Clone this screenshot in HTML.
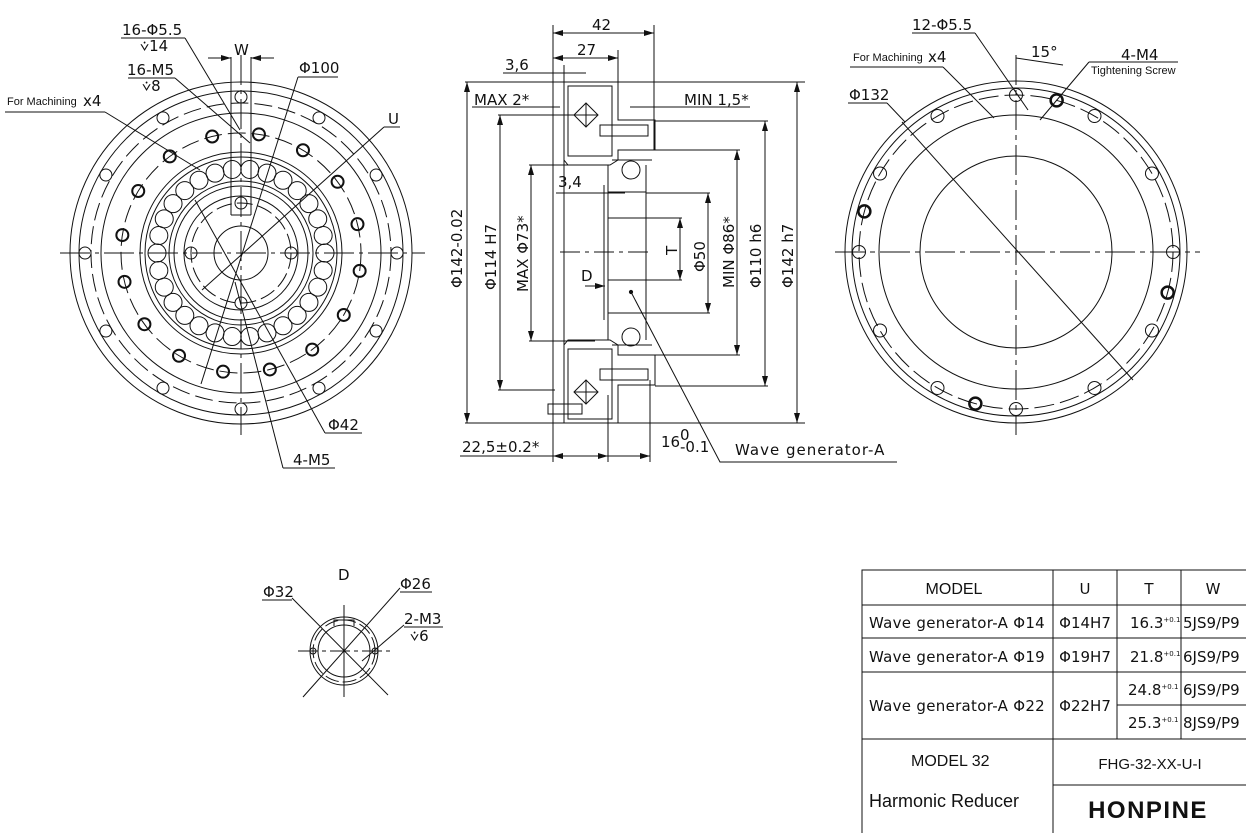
<!DOCTYPE html>
<html><head><meta charset="utf-8">
<style>
html,body{margin:0;padding:0;background:#fff;}
svg{display:block;}
text{stroke:none;}
.t{font-family:"DejaVu Sans","Liberation Sans",sans-serif;font-size:15px;fill:#111;}
.a{font-family:"Liberation Sans",sans-serif;fill:#111;}
</style></head>
<body>
<svg id="s" width="1246" height="833" viewBox="0 0 1246 833" xmlns="http://www.w3.org/2000/svg" fill="none" stroke="#111" stroke-width="1">
<defs>
<marker id="ar" viewBox="0 0 10 6" refX="10" refY="3" markerWidth="10" markerHeight="6" orient="auto-start-reverse"><path d="M0,0L10,3L0,6z" fill="#111" stroke="none"/></marker>
</defs>

<!-- ============ LEFT VIEW ============ -->
<g id="L">
<circle cx="241" cy="253" r="171"/>
<circle cx="241" cy="253" r="162"/>
<circle cx="241" cy="253" r="150" stroke-dasharray="18,6"/>
<circle cx="241" cy="253" r="140"/>
<circle cx="241" cy="253" r="120" stroke-dasharray="18,6"/>
<circle cx="241" cy="253" r="101"/>
<circle cx="241" cy="253" r="96"/>
<circle cx="241" cy="253" r="72"/>
<circle cx="241" cy="253" r="67"/>
<circle cx="241" cy="253" r="57"/>
<circle cx="241" cy="253" r="50" stroke-dasharray="16,5"/>
<circle cx="241" cy="253" r="27"/>
<line x1="60" y1="253" x2="425" y2="253" stroke-dasharray="30,5,4,5"/>
<line x1="241" y1="55" x2="241" y2="435" stroke-dasharray="30,5,4,5"/>
<line x1="231" y1="57" x2="231" y2="215"/>
<line x1="251" y1="57" x2="251" y2="215"/>
<line x1="231" y1="215" x2="251" y2="215"/>
<line x1="208" y1="58" x2="231" y2="58" marker-end="url(#ar)"/>
<line x1="274" y1="58" x2="251" y2="58" marker-end="url(#ar)"/>
</g>
<text class="t" x="234" y="55">W</text>
<text class="t" x="122" y="35">16-Φ5.5</text>
<line x1="121" y1="38" x2="185" y2="38"/>
<text class="t" x="140" y="51">⩒14</text>
<polyline points="185,38 240,130"/>
<text class="t" x="127" y="75">16-M5</text>
<line x1="128" y1="78" x2="175" y2="78"/>
<text class="t" x="142" y="91">⩒8</text>
<polyline points="175,78 250,143"/>
<text class="a" x="7" y="105" font-size="11">For Machining</text>
<text class="t" x="83" y="106">x4</text>
<line x1="5" y1="112" x2="105" y2="112"/>
<polyline points="105,112 200,170"/>
<text class="t" x="299" y="73">Φ100</text>
<line x1="298" y1="77" x2="338" y2="77"/>
<line x1="298" y1="77" x2="201" y2="384"/>
<text class="t" x="388" y="124">U</text>
<line x1="384" y1="127" x2="400" y2="127"/>
<line x1="384" y1="127" x2="202" y2="290"/>
<text class="t" x="328" y="430">Φ42</text>
<line x1="325" y1="433" x2="362" y2="433"/>
<line x1="325" y1="433" x2="195" y2="200"/>
<text class="t" x="293" y="465">4-M5</text>
<line x1="283" y1="468" x2="335" y2="468"/>
<line x1="283" y1="468" x2="235" y2="282"/>

<!-- ============ SECTION VIEW ============ -->
<g>
<line x1="553" y1="25" x2="553" y2="462"/>
<line x1="564" y1="65" x2="564" y2="423"/>
<line x1="654" y1="25" x2="654" y2="150"/>
<line x1="618" y1="50" x2="618" y2="82"/>
<line x1="553" y1="33" x2="654" y2="33" marker-start="url(#ar)" marker-end="url(#ar)"/>
<text class="t" x="592" y="30">42</text>
<line x1="553" y1="58" x2="618" y2="58" marker-start="url(#ar)" marker-end="url(#ar)"/>
<text class="t" x="577" y="55">27</text>
<line x1="503" y1="73" x2="586" y2="73"/>
<text class="t" x="505" y="70">3,6</text>
<line x1="465" y1="82" x2="805" y2="82"/>
<line x1="465" y1="423" x2="805" y2="423"/>
<line x1="467" y1="82" x2="467" y2="423" marker-start="url(#ar)" marker-end="url(#ar)"/>
<text class="t" transform="translate(462,288) rotate(-90)">Φ142-0.02</text>
<text class="t" x="474" y="105">MAX 2*</text>
<line x1="472" y1="107" x2="560" y2="107"/>
<text class="t" x="684" y="105">MIN 1,5*</text>
<line x1="630" y1="107" x2="750" y2="107"/>
<line x1="498" y1="115" x2="575" y2="115"/>
<line x1="498" y1="390" x2="555" y2="390"/>
<line x1="500" y1="115" x2="500" y2="390" marker-start="url(#ar)" marker-end="url(#ar)"/>
<text class="t" transform="translate(496,290) rotate(-90)">Φ114 H7</text>
<line x1="529" y1="165" x2="595" y2="165"/>
<line x1="529" y1="341" x2="595" y2="341"/>
<line x1="531" y1="165" x2="531" y2="341" marker-start="url(#ar)" marker-end="url(#ar)"/>
<text class="t" transform="translate(528,292) rotate(-90)">MAX Φ73*</text>
<text class="t" x="558" y="187">3,4</text>
<line x1="556" y1="193" x2="625" y2="193"/>
<line x1="646" y1="193" x2="710" y2="193"/>
<line x1="646" y1="313" x2="710" y2="313"/>
<line x1="708" y1="193" x2="708" y2="313" marker-start="url(#ar)" marker-end="url(#ar)"/>
<text class="t" transform="translate(705,272) rotate(-90)">Φ50</text>
<line x1="608" y1="218" x2="682" y2="218"/>
<line x1="608" y1="280" x2="682" y2="280"/>
<line x1="680" y1="218" x2="680" y2="280" marker-start="url(#ar)" marker-end="url(#ar)"/>
<text class="t" transform="translate(677,255) rotate(-90)">T</text>
<line x1="655" y1="150" x2="740" y2="150"/>
<line x1="655" y1="355" x2="740" y2="355"/>
<line x1="737" y1="150" x2="737" y2="355" marker-start="url(#ar)" marker-end="url(#ar)"/>
<text class="t" transform="translate(734,288) rotate(-90)">MIN Φ86*</text>
<line x1="655" y1="121" x2="768" y2="121"/>
<line x1="655" y1="386" x2="768" y2="386"/>
<line x1="765" y1="121" x2="765" y2="386" marker-start="url(#ar)" marker-end="url(#ar)"/>
<text class="t" transform="translate(761,288) rotate(-90)">Φ110 h6</text>
<line x1="797" y1="82" x2="797" y2="423" marker-start="url(#ar)" marker-end="url(#ar)"/>
<text class="t" transform="translate(793,288) rotate(-90)">Φ142 h7</text>
<line x1="560" y1="252" x2="650" y2="252" stroke-dasharray="20,5,4,5"/>
<text class="t" x="581" y="281">D</text>
<line x1="585" y1="286" x2="605" y2="286" marker-end="url(#ar)"/>
<!-- body -->
<path d="M564,82 H618 V120 H655 V150 H618 V160 L610,165 H568 L564,160Z"/>
<path d="M564,423 H618 V385 H655 V355 H618 V345 L610,340 H568 L564,345Z"/>
<path d="M568,86 H612 V156 H568Z M568,419 H612 V349 H568Z"/>
<path d="M574,115 L586,103 L598,115 L586,127Z M574,392 L586,380 L598,392 L586,404Z"/>
<line x1="574" y1="115" x2="598" y2="115"/><line x1="586" y1="103" x2="586" y2="127"/>
<line x1="574" y1="392" x2="598" y2="392"/><line x1="586" y1="380" x2="586" y2="404"/>
<path d="M600,125 H648 V136 H600Z M600,369 H648 V380 H600Z M548,404 H582 V414 H548Z" />
<path d="M608,165 V340 M646,165 V340 M604,185 V320 M608,192 H646 M608,313 H646"/>
<circle cx="631" cy="170" r="9"/><circle cx="631" cy="337" r="9"/>
<line x1="612" y1="160" x2="652" y2="160"/><line x1="612" y1="345" x2="652" y2="345"/>
<line x1="608" y1="395" x2="608" y2="462"/>
<line x1="650" y1="380" x2="650" y2="462"/>
<line x1="553" y1="456" x2="608" y2="456" marker-start="url(#ar)" marker-end="url(#ar)"/>
<line x1="608" y1="456" x2="650" y2="456" marker-end="url(#ar)"/>
<text class="t" x="462" y="452">22,5±0.2*</text>
<line x1="460" y1="456" x2="553" y2="456"/>
<text class="t" x="661" y="447">16</text>
<text class="t" x="680" y="440" font-size="10">0</text>
<text class="t" x="680" y="452" font-size="10">-0.1</text>
<circle cx="631" cy="292" r="1.6" fill="#111"/>
<polyline points="631,292 720,462 897,462"/>
<text class="t" x="735" y="455" letter-spacing="1">Wave generator-A</text>
</g>

<!-- ============ RIGHT VIEW ============ -->
<g>
<circle cx="1016" cy="252" r="171"/>
<circle cx="1016" cy="252" r="164"/>
<circle cx="1016" cy="252" r="157" stroke-dasharray="20,6"/>
<circle cx="1016" cy="252" r="137"/>
<circle cx="1016" cy="252" r="96"/>
<line x1="835" y1="252" x2="1200" y2="252" stroke-dasharray="30,5,5,5"/>
<line x1="1016" y1="55" x2="1016" y2="435" stroke-dasharray="30,5,5,5"/>
<line x1="902" y1="122" x2="1133" y2="380"/>
<line x1="1016" y1="58" x2="1063" y2="65"/>
</g>
<text class="t" x="912" y="30">12-Φ5.5</text>
<line x1="912" y1="33" x2="975" y2="33"/><line x1="975" y1="33" x2="1028" y2="110"/>
<text class="t" x="1031" y="57">15°</text>
<text class="t" x="1121" y="60">4-M4</text>
<text class="a" x="1091" y="74" font-size="11">Tightening Screw</text>
<line x1="1089" y1="62" x2="1178" y2="62"/><line x1="1089" y1="62" x2="1040" y2="120"/>
<text class="a" x="853" y="61" font-size="11">For Machining</text>
<text class="t" x="928" y="62">x4</text>
<line x1="850" y1="67" x2="943" y2="67"/><line x1="943" y1="67" x2="994" y2="118"/>
<text class="t" x="849" y="100">Φ132</text>
<line x1="848" y1="103" x2="887" y2="103"/><line x1="887" y1="103" x2="905" y2="122"/>

<!-- ============ D VIEW ============ -->
<g>
<circle cx="344" cy="651" r="34"/>
<circle cx="344" cy="651" r="31" stroke-dasharray="14,4"/>
<circle cx="344" cy="651" r="26"/>
<path d="M334,626 V620 H354 V626"/>
<circle cx="313" cy="651" r="3"/><circle cx="375" cy="651" r="3"/>
<line x1="298" y1="651" x2="392" y2="651" stroke-dasharray="20,4,4,4"/>
<line x1="344" y1="605" x2="344" y2="697"/>
<line x1="292" y1="598" x2="388" y2="695"/>
<line x1="303" y1="697" x2="400" y2="588"/>
<line x1="362" y1="661" x2="404" y2="625"/>
</g>
<text class="t" x="338" y="580">D</text>
<text class="t" x="263" y="597">Φ32</text><line x1="262" y1="600" x2="292" y2="600"/>
<text class="t" x="400" y="589">Φ26</text><line x1="400" y1="592" x2="432" y2="592"/>
<text class="t" x="404" y="624">2-M3</text><line x1="404" y1="627" x2="443" y2="627"/>
<text class="t" x="410" y="641">⩒6</text>

<!-- ============ TABLE ============ -->
<g stroke="#111">
<rect x="862" y="570" width="390" height="270"/>
<line x1="862" y1="605" x2="1246" y2="605"/>
<line x1="862" y1="638" x2="1246" y2="638"/>
<line x1="862" y1="672" x2="1246" y2="672"/>
<line x1="1117" y1="705" x2="1246" y2="705"/>
<line x1="862" y1="739" x2="1246" y2="739"/>
<line x1="1053" y1="785" x2="1246" y2="785"/>
<line x1="1053" y1="570" x2="1053" y2="833"/>
<line x1="1117" y1="570" x2="1117" y2="739"/>
<line x1="1181" y1="570" x2="1181" y2="739"/>
</g>
<g stroke="none">
<text class="a" x="954" y="594" font-size="16" text-anchor="middle">MODEL</text>
<text class="t" x="1085" y="594" text-anchor="middle">U</text>
<text class="t" x="1149" y="594" text-anchor="middle">T</text>
<text class="t" x="1213" y="594" text-anchor="middle">W</text>
<text class="t" x="957" y="628" text-anchor="middle" font-size="14" letter-spacing="0.3">Wave generator-A Φ14</text>
<text class="t" x="957" y="662" text-anchor="middle" font-size="14" letter-spacing="0.3">Wave generator-A Φ19</text>
<text class="t" x="957" y="711" text-anchor="middle" font-size="14" letter-spacing="0.3">Wave generator-A Φ22</text>
<text class="t" x="1085" y="628" text-anchor="middle" font-size="14">Φ14H7</text>
<text class="t" x="1085" y="662" text-anchor="middle" font-size="14">Φ19H7</text>
<text class="t" x="1085" y="711" text-anchor="middle" font-size="14">Φ22H7</text>
<text class="t" x="1130" y="628" font-size="14">16.3<tspan font-size="7" dy="-6">+0.1</tspan></text>
<text class="t" x="1130" y="662" font-size="14">21.8<tspan font-size="7" dy="-6">+0.1</tspan></text>
<text class="t" x="1128" y="695" font-size="14">24.8<tspan font-size="7" dy="-6">+0.1</tspan></text>
<text class="t" x="1128" y="728" font-size="14">25.3<tspan font-size="7" dy="-6">+0.1</tspan></text>
<text class="t" x="1183" y="628" font-size="14">5JS9/P9</text>
<text class="t" x="1183" y="662" font-size="14">6JS9/P9</text>
<text class="t" x="1183" y="695" font-size="14">6JS9/P9</text>
<text class="t" x="1183" y="728" font-size="14">8JS9/P9</text>
<text class="a" x="911" y="766" font-size="16">MODEL   32</text>
<text class="a" x="869" y="807" font-size="18">Harmonic Reducer</text>
<text class="a" x="1150" y="769" font-size="15" text-anchor="middle">FHG-32-XX-U-I</text>
<text class="a" x="1148" y="818" font-size="24" font-weight="bold" text-anchor="middle" letter-spacing="1.5" fill="#222">HONPINE</text>
</g>
</svg>
<script>
var s=document.getElementById('s'),N='http://www.w3.org/2000/svg';
function c(x,y,r,w,f){var e=document.createElementNS(N,'circle');e.setAttribute('cx',x);e.setAttribute('cy',y);e.setAttribute('r',r);if(w)e.setAttribute('stroke-width',w);if(f)e.setAttribute('fill',f);s.appendChild(e);}
var i,a;
for(i=0;i<12;i++){a=i*Math.PI/6;c(241+156*Math.cos(a),253+156*Math.sin(a),6);}
for(i=0;i<16;i++){a=i*Math.PI/8+0.15;c(241+120*Math.cos(a),253+120*Math.sin(a),6,2);}
for(i=0;i<30;i++){a=i*Math.PI/15;c(241+84*Math.cos(a),253+84*Math.sin(a),9);}
for(i=0;i<4;i++){a=i*Math.PI/2;c(241+50*Math.cos(a),253+50*Math.sin(a),6);}
for(i=0;i<12;i++){a=i*Math.PI/6;c(1016+157*Math.cos(a),252+157*Math.sin(a),6.5);}
[[-75],[15],[105],[195]].forEach(function(d){var r=(d[0]-90)*Math.PI/180;c(1016+157*Math.cos(r),252+157*Math.sin(r),6,2.5);});
</script>
</body></html>
